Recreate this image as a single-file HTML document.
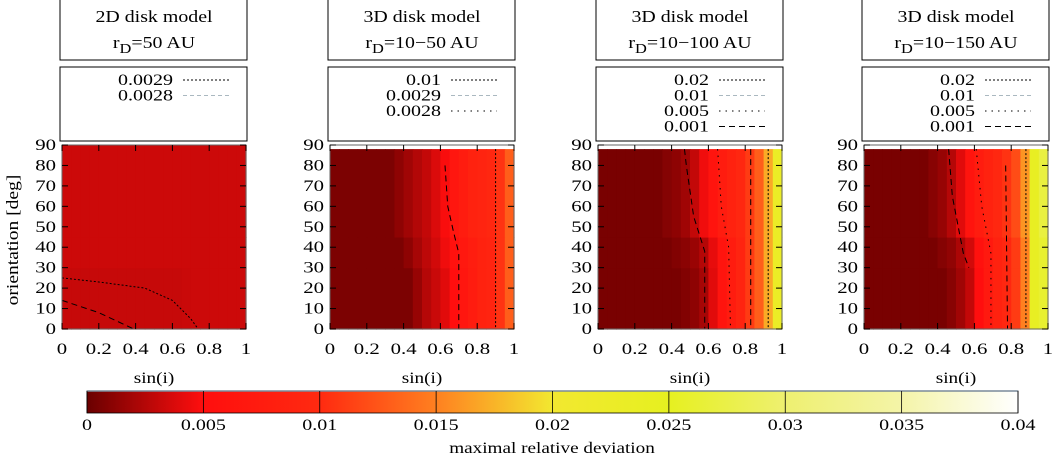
<!DOCTYPE html>
<html><head><meta charset="utf-8"><style>
html,body{margin:0;padding:0;background:#fff;width:1055px;height:456px;overflow:hidden}
svg{display:block;font-family:"Liberation Serif",serif}
</style></head><body>
<svg id="chart" width="1055" height="456" viewBox="0 0 1055 456" xmlns="http://www.w3.org/2000/svg"></svg>
<script>
const titles1 = ["2D disk model","3D disk model","3D disk model","3D disk model"];
const titles2 = ["50 AU","10\u221250 AU","10\u2212100 AU","10\u2212150 AU"];
const legendLabels = [["0.0029","0.0028"],["0.01","0.0029","0.0028"],["0.02","0.01","0.005","0.001"],["0.02","0.01","0.005","0.001"]];
const legendStyles = [["dot","gray"],["dot","gray","sparse"],["dot","gray","sparse","dash"],["dot","gray","sparse","dash"]];
const xTicks = [0,0.2,0.4,0.6,0.8,1];
const yTicks = [0,10,20,30,40,50,60,70,80,90];
const cbTicks = [0,0.005,0.01,0.015,0.02,0.025,0.03,0.035,0.04];
const cmapVals = [0,0.005,0.01,0.015,0.02,0.025,0.03,0.035,0.04];
const cmapCols = ["#6a0000","#ff0e0e","#ff2a10","#ff8020","#f2e830","#e6f020","#eef070","#f4f4a8","#ffffff"];
// heatmap rows: 20 columns of sin(i), bands low(0-30), mid(30-45), high(45-88)
const p1Low = [0.0031,0.0031,0.0031,0.0031,0.0031,0.0031,0.0031,0.0031,0.0031,0.0031,0.0031,0.0031,0.0031,0.0032,0.0033,0.0033,0.0033,0.0033,0.0033,0.0033];
const p1Mid = [0.0033,0.0033,0.0033,0.0033,0.0033,0.0033,0.0033,0.0033,0.0033,0.0033,0.0033,0.0033,0.0033,0.0033,0.0033,0.0033,0.0033,0.0033,0.0033,0.0033];
const p1High = p1Mid;
const p2Low = [0.0006,0.0006,0.0006,0.0006,0.0006,0.0006,0.0006,0.0006,0.0006,0.0015,0.0025,0.0032,0.004,0.005,0.0065,0.0075,0.0085,0.009,0.0105,0.013];
const p2Mid = [0.0006,0.0006,0.0006,0.0006,0.0006,0.0006,0.0006,0.0006,0.0012,0.002,0.0028,0.0035,0.0045,0.0055,0.0068,0.0077,0.0085,0.009,0.0105,0.013];
const p2High = [0.0006,0.0006,0.0006,0.0006,0.0006,0.0006,0.0006,0.0012,0.0018,0.0024,0.003,0.0038,0.0048,0.0065,0.0075,0.0085,0.009,0.0095,0.0105,0.013];
const p3Low = [0.0005,0.0005,0.0005,0.0005,0.0005,0.0005,0.0005,0.0005,0.0005,0.0008,0.0012,0.002,0.004,0.006,0.0075,0.009,0.011,0.013,0.017,0.023];
const p3Mid = [0.0005,0.0005,0.0005,0.0005,0.0005,0.0005,0.0005,0.0005,0.0008,0.0011,0.0016,0.0025,0.0042,0.006,0.0075,0.009,0.011,0.013,0.017,0.023];
const p3High = [0.0005,0.0005,0.0005,0.0005,0.0005,0.0005,0.0005,0.0009,0.0012,0.0018,0.003,0.0045,0.006,0.0075,0.0085,0.0095,0.011,0.013,0.017,0.023];
const p4Low = [0.0005,0.0005,0.0005,0.0005,0.0005,0.0005,0.0005,0.0005,0.0005,0.001,0.0018,0.003,0.005,0.007,0.0085,0.0095,0.011,0.015,0.024,0.026];
const p4Mid = [0.0005,0.0005,0.0005,0.0005,0.0005,0.0005,0.0005,0.0005,0.0009,0.0013,0.0022,0.0035,0.0055,0.007,0.0085,0.0095,0.011,0.015,0.024,0.026];
const p4High = [0.0005,0.0005,0.0005,0.0005,0.0005,0.0005,0.0005,0.001,0.0015,0.0025,0.004,0.006,0.0075,0.0085,0.0095,0.0105,0.012,0.016,0.024,0.027];
const bandEdges = [0,30,45,88];
// contour lines [sin(i), deg]
const c1a = [[0,25],[0.2,23],[0.45,20],[0.6,14],[0.7,5],[0.74,0]];
const c1b = [[0,14],[0.2,8],[0.39,0]];
const c2a = [[0.9,88],[0.9,0]];
const c2b = [[0.625,80],[0.64,60],[0.67,48],[0.7,37],[0.7,0]];
const c3a = [[0.925,88],[0.925,0]];
const c3b = [[0.83,88],[0.83,0]];
const c3c = [[0.65,88],[0.67,60],[0.71,40],[0.72,0]];
const c3d = [[0.47,88],[0.48,80],[0.52,55],[0.58,38],[0.58,0]];
const c4a = [[0.88,88],[0.88,0]];
const c4b = [[0.77,80],[0.775,40],[0.78,0]];
const c4c = [[0.61,88],[0.64,60],[0.69,37],[0.69,0]];
const c4d = [[0.46,88],[0.48,65],[0.54,37],[0.57,30]];

const panels = [
 {left:62, bands:[p1Low,p1Mid,p1High], top:90, contours:[[c1a,"dot"],[c1b,"dash"]]},
 {left:330, bands:[p2Low,p2Mid,p2High], top:88, contours:[[c2a,"dot"],[c2b,"dash"]]},
 {left:598, bands:[p3Low,p3Mid,p3High], top:88, contours:[[c3a,"dot"],[c3b,"dash"],[c3c,"sparse"],[c3d,"dash"]]},
 {left:864, bands:[p4Low,p4Mid,p4High], top:88, contours:[[c4a,"dot"],[c4b,"dash"],[c4c,"sparse"],[c4d,"dash"]]}
];
const NS="http://www.w3.org/2000/svg";
const svg=document.getElementById('chart');
function mk(tag,attrs,parent){const e=document.createElementNS(NS,tag);for(const k in attrs)e.setAttribute(k,attrs[k]);(parent||svg).appendChild(e);return e;}
function txt(x,y,anchor,size,sx,parent){return mk('text',{x:0,y:0,transform:'translate('+x+','+y+') scale('+sx+',1)','text-anchor':anchor,'font-size':size},parent);}
function hex(c){return [1,3,5].map(i=>parseInt(c.substr(i,2),16));}
function cmap(v){
  if(v<=cmapVals[0])return cmapCols[0];
  for(let i=1;i<cmapVals.length;i++){if(v<=cmapVals[i]){const t=(v-cmapVals[i-1])/(cmapVals[i]-cmapVals[i-1]);const a=hex(cmapCols[i-1]),b=hex(cmapCols[i]);return 'rgb('+a.map((x,j)=>Math.round(x+(b[j]-x)*t)).join(',')+')';}}
  return cmapCols[cmapVals.length-1];
}
const W=184, TOP=145, BOT=329;
const yS=d=>BOT-(d/90)*(BOT-TOP);
const dashes={dot:"2,2",dash:"6,4",sparse:"1.5,5",gray:"4,3"};
panels.forEach((p,pi)=>{
  const xS=s=>p.left+s*W;
  const g=mk('g',{});
  
  
  const tb=mk('rect',{x:p.left-2,y:-1,width:W+3,height:61,fill:'#fff',stroke:'#000','stroke-width':1},g);
  
  
  const t1=txt(p.left+W/2,22,'middle',17,1.17,g);t1.textContent=titles1[pi];
  
  
  const t2=txt(p.left+W/2,48,'middle',17,1.17,g);
  
  
  const ts1=mk('tspan',{},t2);ts1.textContent='r';
  const ts2=mk('tspan',{dy:5,'font-size':14},t2);ts2.textContent='D';
  const ts3=mk('tspan',{dy:-5},t2);ts3.textContent='='+titles2[pi];
  const lb=mk('rect',{x:p.left-2,y:67,width:W+3,height:74,fill:'#fff',stroke:'#000','stroke-width':1},g);
  
  
  legendLabels[pi].forEach((lab,li)=>{
    const yy=80+li*15.5;
    const lt=txt(p.left+111,yy+5,'end',16,1.25,g);lt.textContent=lab;
    
    
    const st=legendStyles[pi][li];
    mk('line',{x1:p.left+121,x2:p.left+167,y1:yy,y2:yy,stroke:st==='gray'?'#aab8c0':'#000','stroke-width':1,'stroke-dasharray':dashes[st]},g);
  });
  const hm=mk('g',{},g);
  
  
  p.bands.forEach((row,bi)=>{
    const y0=bandEdges[bi], y1=bi===p.bands.length-1?p.top:bandEdges[bi+1];
    row.forEach((v,ci)=>{
      const s0=ci/row.length,s1=(ci+1)/row.length;
      const r=mk('rect',{x:xS(s0),y:yS(y1),width:xS(s1)-xS(s0)+0.6,height:yS(y0)-yS(y1)+0.6,fill:cmap(v)},hm);
      
      
    });
  });
  p.contours.forEach(([pts,st])=>{
    const pl=mk('polyline',{points:pts.map(q=>xS(q[0])+','+yS(q[1])).join(' '),fill:'none',stroke:'#000','stroke-width':1,'stroke-dasharray':dashes[st]},g);
    
    
  });
  mk('rect',{x:p.left,y:TOP,width:W,height:BOT-TOP,fill:'none',stroke:'#666','stroke-width':1},g);
  yTicks.forEach(d=>{
    mk('line',{x1:p.left,x2:p.left+6,y1:yS(d),y2:yS(d),stroke:'#000'},g);
    mk('line',{x1:p.left+W-6,x2:p.left+W,y1:yS(d),y2:yS(d),stroke:'#000'},g);
    const tx=txt(p.left-6,yS(d)+5,'end',16,1.3,g);tx.textContent=d;
    
    
  });
  xTicks.forEach(s=>{
    mk('line',{x1:xS(s),x2:xS(s),y1:BOT,y2:BOT-6,stroke:'#000'},g);
    mk('line',{x1:xS(s),x2:xS(s),y1:TOP,y2:TOP+6,stroke:'#000'},g);
    const tx=txt(xS(s),354,'middle',16,1.3,g);tx.textContent=s;
    
    
  });
  const xt=txt(p.left+W/2,383,'middle',16,1.2,g);xt.textContent='sin(i)';
  
  
});
const yt=mk('text',{x:0,y:0,transform:'translate(18,240) rotate(-90) scale(1.15,1)','text-anchor':'middle','font-size':17});yt.textContent='orientation [deg]';


const CB0=87, CB1=1018;
const cbX=v=>CB0+(v/0.04)*(CB1-CB0);
const cb=mk('g',{});


const defs=mk('defs',{});
const lg=mk('linearGradient',{id:'cbg',x1:0,x2:1,y1:0,y2:0},defs);
cmapVals.forEach((v,i)=>mk('stop',{offset:v/0.04,'stop-color':cmapCols[i]},lg));
mk('rect',{x:CB0,y:391,width:CB1-CB0,height:22,fill:'url(#cbg)',stroke:'#000','stroke-width':0.8},cb);
mk('line',{x1:CB0,x2:CB1,y1:391,y2:391,stroke:'#7a8a9a','stroke-width':1.5},cb);
cbTicks.forEach(v=>{
  mk('line',{x1:cbX(v),x2:cbX(v),y1:391,y2:413,stroke:'#000','stroke-width':0.8},cb);
  const tx=txt(cbX(v),430,'middle',16,1.25,cb);tx.textContent=v;
  
  
});
const ct=txt(552,453,'middle',16,1.2,cb);ct.textContent='maximal relative deviation';


</script>
</body></html>
